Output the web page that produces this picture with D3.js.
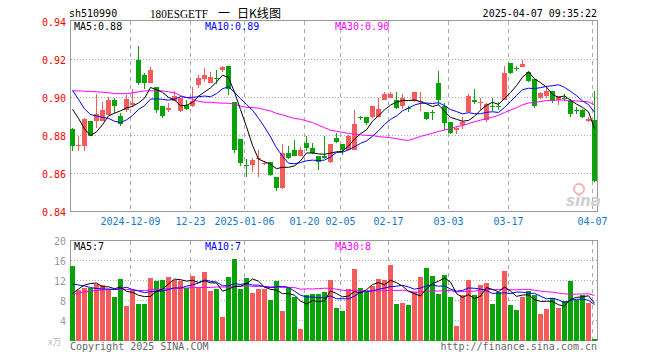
<!DOCTYPE html>
<html><head><meta charset="utf-8">
<script src="https://cdn.jsdelivr.net/npm/d3@7"></script>
<style>body{margin:0;background:#fff}svg{display:block}</style>
</head><body><svg id="c" width="660" height="360"></svg>
<script>
const dates = ["2024-11-25","2024-11-26","2024-11-27","2024-11-28","2024-11-29",
"2024-12-02","2024-12-03","2024-12-04","2024-12-05","2024-12-06",
"2024-12-09","2024-12-10","2024-12-11","2024-12-12","2024-12-13",
"2024-12-16","2024-12-17","2024-12-18","2024-12-19","2024-12-20",
"2024-12-23","2024-12-24","2024-12-25","2024-12-26","2024-12-27",
"2024-12-30","2024-12-31","2025-01-02","2025-01-03",
"2025-01-06","2025-01-07","2025-01-08","2025-01-09","2025-01-10",
"2025-01-13","2025-01-14","2025-01-15","2025-01-16","2025-01-17",
"2025-01-20","2025-01-21","2025-01-22","2025-01-23","2025-01-24","2025-01-27",
"2025-02-05","2025-02-06","2025-02-07",
"2025-02-10","2025-02-11","2025-02-12","2025-02-13","2025-02-14",
"2025-02-17","2025-02-18","2025-02-19","2025-02-20","2025-02-21",
"2025-02-24","2025-02-25","2025-02-26","2025-02-27","2025-02-28",
"2025-03-03","2025-03-04","2025-03-05","2025-03-06","2025-03-07",
"2025-03-10","2025-03-11","2025-03-12","2025-03-13","2025-03-14",
"2025-03-17","2025-03-18","2025-03-19","2025-03-20","2025-03-21",
"2025-03-24","2025-03-25","2025-03-26","2025-03-27","2025-03-28",
"2025-03-31","2025-04-01","2025-04-02","2025-04-03","2025-04-07"];

const open = [0.8833,0.8744,0.8744,0.8875,0.8877,0.8877,0.8907,0.8986,0.8902,0.8933,
0.8963,0.9196,0.9117,0.9077,0.9053,0.8954,0.8933,0.8982,0.8930,0.8963,
0.8954,0.9065,0.9100,0.9077,0.9105,0.9144,0.9165,0.8977,0.8779,0.8644,
0.8647,0.8674,0.8655,0.8658,0.8580,0.8524,0.8710,0.8723,0.8691,0.8763,
0.8735,0.8691,0.8693,0.8661,0.8789,0.8753,0.8723,0.8726,0.8897,0.8895,
0.8895,0.8895,0.8986,0.8995,0.8986,0.8954,0.8944,0.8980,0.8974,0.8924,
0.8926,0.9077,0.8954,0.8872,0.8828,0.8854,0.8924,0.8986,0.8970,0.8881,
0.8953,0.8953,0.8986,0.9184,0.9156,0.9161,0.9135,0.9095,0.8998,0.9007,
0.9033,0.8986,0.8997,0.8982,0.8932,0.8933,0.8875,0.8884];
const high = [0.8842,0.8797,0.8890,0.8878,0.9016,0.8977,0.9003,0.8998,0.8920,0.9012,
0.9047,0.9270,0.9130,0.9158,0.9053,0.8954,0.8970,0.9033,0.8998,0.8986,
0.9053,0.9120,0.9153,0.9135,0.9144,0.9166,0.9165,0.8977,0.8779,0.8674,
0.8680,0.8723,0.8665,0.8658,0.8580,0.8754,0.8744,0.8775,0.8740,0.8800,
0.8761,0.8691,0.8800,0.8754,0.8814,0.8753,0.8805,0.8933,0.8905,0.8895,
0.8954,0.9000,0.9030,0.9030,0.9030,0.9020,0.8955,0.9030,0.9030,0.8924,
0.8936,0.9140,0.8970,0.8872,0.8845,0.8900,0.9021,0.9047,0.9000,0.8970,
0.8995,0.8975,0.9165,0.9184,0.9165,0.9200,0.9140,0.9095,0.9030,0.9060,
0.9033,0.9010,0.9021,0.8990,0.8950,0.8940,0.8900,0.9033];
const low = [0.8719,0.8719,0.8719,0.8795,0.8837,0.8877,0.8907,0.8916,0.8849,0.8924,
0.8951,0.9065,0.9047,0.9077,0.8916,0.8890,0.8924,0.8982,0.8925,0.8935,
0.8950,0.9050,0.9082,0.9077,0.9070,0.9135,0.9012,0.8709,0.8638,0.8579,
0.8609,0.8582,0.8645,0.8586,0.8508,0.8517,0.8675,0.8690,0.8691,0.8720,
0.8705,0.8621,0.8675,0.8655,0.8760,0.8700,0.8723,0.8726,0.8880,0.8854,
0.8890,0.8895,0.8986,0.8995,0.8940,0.8940,0.8925,0.8975,0.8930,0.8880,
0.8880,0.8960,0.8828,0.8810,0.8810,0.8835,0.8924,0.8965,0.8933,0.8870,
0.8930,0.8935,0.8986,0.9125,0.9140,0.9161,0.9080,0.8945,0.8990,0.9000,
0.8970,0.8960,0.8980,0.8895,0.8915,0.8890,0.8870,0.8555];
const close = [0.8744,0.8752,0.8886,0.8800,0.8913,0.8933,0.8986,0.8954,0.8863,0.8991,
0.8972,0.9077,0.9077,0.9147,0.8933,0.8902,0.8945,0.9007,0.8998,0.8942,
0.8982,0.9105,0.9117,0.9108,0.9096,0.9161,0.9047,0.8723,0.8656,0.8643,
0.8672,0.8683,0.8656,0.8591,0.8524,0.8710,0.8682,0.8693,0.8723,0.8733,
0.8710,0.8658,0.8682,0.8754,0.8766,0.8723,0.8800,0.8863,0.8895,0.8866,
0.8954,0.8942,0.9017,0.9021,0.8945,0.8995,0.8942,0.9030,0.8980,0.8886,
0.8924,0.8986,0.8866,0.8814,0.8837,0.8872,0.9007,0.8974,0.8977,0.8965,
0.8951,0.8951,0.9130,0.9130,0.9149,0.9175,0.9087,0.8954,0.9026,0.9033,
0.8982,0.9007,0.8995,0.8912,0.8930,0.8898,0.8886,0.8559];
const volume = [14.9,10.1,10.6,10.6,11.3,11.1,10.1,8.7,12.3,6.9,
10.1,7.3,7.3,12.5,12.0,12.1,12.7,12.1,11.9,10.6,
12.9,10.6,13.7,9.9,10.4,4.7,12.7,16.3,10.4,12.6,
9.6,10.4,10.4,8.1,12.0,5.9,10.6,8.7,2.3,9.1,
9.3,9.4,9.7,12.1,6.5,5.9,10.3,14.3,10.5,9.8,
11.0,12.3,12.1,15.1,7.3,7.6,7.1,9.8,12.7,14.5,
12.9,9.3,13.1,8.7,2.9,9.1,12.1,9.1,11.1,11.5,
7.3,9.7,13.9,7.1,6.1,8.7,9.9,9.1,5.3,6.3,
8.5,6.5,7.9,12.0,8.2,9.1,7.5,0.4];

// moving-average values for days whose window starts before the first shown day
const ma5Head = [0.8938,0.8890,0.8835,0.8800];
const ma10Head = [0.9038,0.8990,0.8940,0.8910,0.8903,0.8895,0.8890,0.8875,0.8868];
const ma30Head = [0.9035,0.9035,0.9033,0.9032,0.9030,0.9028,0.9025,0.9020,0.9020,0.9020,
0.9025,0.9030,0.9035,0.9035,0.9035,0.9035,0.9030,0.9025,0.9010,0.9000,
0.8990,0.8980,0.8975,0.8975,0.8972,0.8970,0.8970,0.8965,0.8955];
const vma5Head = [9.4,10.3,11.1,11.4];
const vma10Head = [11.3,11.1,10.9,10.6,10.4,10.3,10.3,10.2,10.4];
const vma30Head = [9.3,9.5,9.7,9.9,10.0,10.1,10.2,10.2,10.2,10.2,
10.1,10.0,10.0,10.1,10.2,10.3,10.4,10.4,10.5,10.5,
10.6,10.6,10.6,10.6,10.7,10.7,10.7,10.8,10.8];

const tickDates = ["2024-12-09","2024-12-23","2025-01-06","2025-01-20","2025-02-05","2025-02-17","2025-03-03","2025-03-17","2025-04-07"];
const tickLabels = ["2024-12-09","12-23","2025-01-06","01-20","02-05","02-17","03-03","03-17","04-07"];
const priceTicks = [0.84,0.86,0.88,0.90,0.92,0.94];
const volTicks = [4,8,12,16,20];

const RED = "#f65b5b", GREEN = "#07a307";
const svg = d3.select("#c");
const mono = "'DejaVu Sans Mono', monospace";

const x = d3.scaleBand().domain(dates).range([70, 70 + dates.length * 6]).padding(0);
const bw = x.bandwidth() - 1;
const yP = d3.scaleLinear().domain([0.84, 0.94]).range([211.5, 21.5]);
const yV = d3.scaleLinear().domain([0, 20]).range([340.5, 240.5]);

function movAvg(arr, n, head) {
  return arr.map((v, i) => i < head.length ? head[i] : d3.mean(arr.slice(i - n + 1, i + 1)));
}

function panel(y, ticks, gridTicks, top, bottom) {
  const g = svg.append("g");
  g.selectAll(".hg").data(gridTicks).join("line")
    .attr("x1", 70.5).attr("x2", 597.5)
    .attr("y1", d => Math.round(y(d) - 0.5) + 0.5).attr("y2", d => Math.round(y(d) - 0.5) + 0.5)
    .attr("stroke", "#aaa").attr("stroke-dasharray", "1,2").attr("shape-rendering", "crispEdges");
  g.selectAll(".vg").data(tickDates).join("line")
    .attr("x1", d => x(d) + 0.5).attr("x2", d => x(d) + 0.5)
    .attr("y1", top).attr("y2", bottom)
    .attr("stroke", "#aaa").attr("stroke-dasharray", "4,4").attr("shape-rendering", "crispEdges");
  g.append("rect").attr("x", 70.5).attr("y", top).attr("width", 527).attr("height", bottom - top)
    .attr("fill", "none").attr("stroke", "#999").attr("shape-rendering", "crispEdges");
  return g;
}

// ---- price panel ----
panel(yP, priceTicks, [0.86, 0.88, 0.90, 0.92], 20.5, 211.5);
svg.append("g").selectAll("text").data(priceTicks).join("text")
  .attr("x", 66).attr("y", d => yP(d) + 4).attr("text-anchor", "end")
  .attr("font-family", mono).attr("font-size", 10).attr("fill", "#f00")
  .text(d => d.toFixed(2));

const idx = d3.range(dates.length);
const cg = svg.append("g").attr("shape-rendering", "crispEdges");
cg.selectAll(".wick").data(idx).join("line")
  .attr("x1", i => x(dates[i]) + 2.5).attr("x2", i => x(dates[i]) + 2.5)
  .attr("y1", i => yP(high[i])).attr("y2", i => yP(low[i]))
  .attr("stroke", i => close[i] > open[i] ? RED : GREEN);
cg.selectAll(".body").data(idx).join("rect")
  .attr("x", i => x(dates[i])).attr("width", bw)
  .attr("y", i => yP(Math.max(open[i], close[i])))
  .attr("height", i => Math.max(1, Math.abs(yP(open[i]) - yP(close[i]))))
  .attr("fill", i => close[i] > open[i] ? RED : GREEN);

const cx = i => x(dates[i]) + 2.5;
const lineP = d3.line().x((d, i) => cx(i)).y(d => yP(d));
[[movAvg(close, 30, ma30Head), "#f0f"], [movAvg(close, 10, ma10Head), "#00f"], [movAvg(close, 5, ma5Head), "#000"]]
  .forEach(([v, c]) => svg.append("path").attr("d", lineP(v)).attr("fill", "none")
    .attr("stroke", c).attr("stroke-width", 1));

// ---- volume panel ----
panel(yV, volTicks, [4, 8, 12, 16], 240.5, 340.5);
svg.append("g").selectAll("text").data(volTicks).join("text")
  .attr("x", 66).attr("y", d => yV(d) + 4).attr("text-anchor", "end")
  .attr("font-family", mono).attr("font-size", 10).attr("fill", "#999")
  .text(d => d);
svg.append("g").attr("shape-rendering", "crispEdges").selectAll("rect").data(idx).join("rect")
  .attr("x", i => x(dates[i])).attr("width", bw)
  .attr("y", i => yV(volume[i])).attr("height", i => yV(0) - yV(volume[i]))
  .attr("fill", i => close[i] > open[i] ? RED : GREEN);
const lineV = d3.line().x((d, i) => cx(i)).y(d => yV(d));
[[movAvg(volume, 30, vma30Head), "#f0f"], [movAvg(volume, 10, vma10Head), "#00f"], [movAvg(volume, 5, vma5Head), "#000"]]
  .forEach(([v, c]) => svg.append("path").attr("d", lineV(v)).attr("fill", "none")
    .attr("stroke", c).attr("stroke-width", 1));

// ---- date labels ----
svg.append("g").selectAll("text").data(tickDates).join("text")
  .attr("x", d => x(d) + 0.5).attr("y", 225).attr("text-anchor", "middle")
  .attr("font-family", mono).attr("font-size", 10).attr("fill", "#1479c9")
  .text((d, i) => tickLabels[i]);

// ---- header texts ----
function txt(s, xx, yy, opts) {
  const t = svg.append("text").attr("x", xx).attr("y", yy)
    .attr("font-family", opts.font || mono).attr("font-size", opts.size || 10)
    .attr("fill", opts.fill || "#000").text(s);
  if (opts.anchor) t.attr("text-anchor", opts.anchor);
  return t;
}
const serif = "'Liberation Serif','Noto Sans CJK SC',serif";
txt("sh510990", 69, 17, {});
txt("180ESGETF", 150, 18, {font: serif, size: 13}).attr("textLength", 58).attr("lengthAdjust", "spacingAndGlyphs");
txt("一", 218, 18, {font: "'Noto Sans CJK SC',sans-serif", size: 12});
txt("日K线图", 237, 18, {font: "'Noto Sans CJK SC',sans-serif", size: 12}).attr("textLength", 44).attr("lengthAdjust", "spacingAndGlyphs");
txt("2025-04-07 09:35:22", 597, 17, {anchor: "end"});
txt("MA5:0.88", 74, 30, {});
txt("MA10:0.89", 205, 30, {fill: "#00f"});
txt("MA30:0.90", 335, 30, {fill: "#f0f"});
txt("MA5:7", 74, 250, {});
txt("MA10:7", 205, 250, {fill: "#00f"});
txt("MA30:8", 335, 250, {fill: "#f0f"});
txt("x万", 48, 345, {fill: "#bbb", font: "'Noto Sans CJK SC',sans-serif", size: 9});
txt("Copyright 2025 SINA.COM", 70, 350, {fill: "#666"});
txt("http://finance.sina.com.cn", 597, 350, {fill: "#666", anchor: "end"});
// watermark
svg.append("circle").attr("cx", 579).attr("cy", 189).attr("r", 5).attr("fill", "none").attr("stroke", "#f2b5b5").attr("stroke-width", 2);
txt("sina", 566, 206, {fill: "#cfcfcf", font: "'DejaVu Sans',sans-serif", size: 15}).attr("font-style", "italic").attr("font-weight", "bold");
</script></body></html>
